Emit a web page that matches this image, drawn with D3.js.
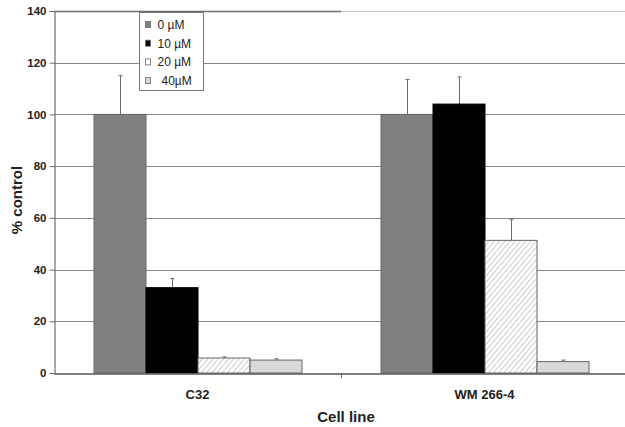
<!DOCTYPE html>
<html>
<head>
<meta charset="utf-8">
<script src="https://cdn.jsdelivr.net/npm/d3@7"></script>
<style>
  body { margin: 0; background: #fff; }
  text { font-family: Arial, "Liberation Sans", sans-serif; }
</style>
</head>
<body>
<div id="container"></div>
<script>
// data
let cellLines = ['C32', 'WM 266-4'];
let doses = ['0 \u00b5M', '10 \u00b5M', '20 \u00b5M', '40\u00b5M'];
let meanC32 = [100, 33, 5.8, 5];
let meanWM = [100, 104, 51.3, 4.4];
let errC32 = [15, 3.5, 0.4, 0.5];
let errWM = [13.5, 10.5, 8, 0.6];
let yTicks = [0, 20, 40, 60, 80, 100, 120, 140];

let w = 625;
let h = 427;
let margin = { top: 11, right: 0, bottom: 54, left: 54 };

let fills = ['#808080', '#000000', 'url(#hatch)', '#d9d9d9'];
let legendFills = ['#808080', '#000000', '#ffffff', '#d9d9d9'];

let svg = d3.select('#container')
  .append('svg')
    .attr('width', w)
    .attr('height', h);

// hatch pattern for the 20 uM bars
let pat = svg.append('defs').append('pattern')
  .attr('id', 'hatch')
  .attr('patternUnits', 'userSpaceOnUse')
  .attr('width', 4)
  .attr('height', 4)
  .attr('patternTransform', 'rotate(40)');
pat.append('rect').attr('width', 4).attr('height', 4).attr('fill', '#fff');
pat.append('line')
  .attr('x1', 0).attr('y1', 0).attr('x2', 0).attr('y2', 4)
  .attr('stroke', '#a8a8a8').attr('stroke-width', 1.2);

let x0 = d3.scaleBand()
  .domain(cellLines)
  .range([margin.left, margin.left + 574]);

let x1 = d3.scaleBand()
  .domain(d3.range(doses.length))
  .range([40, 40 + 208]);

let y = d3.scaleLinear()
  .domain([0, 140])
  .range([h - margin.bottom, margin.top]);

// gridlines
svg.append('g').selectAll('line')
  .data(yTicks.filter(d => d > 0))
  .enter().append('line')
    .attr('x1', margin.left)
    .attr('x2', w)
    .attr('y1', d => Math.round(y(d)) + 0.5)
    .attr('y2', d => Math.round(y(d)) + 0.5)
    .attr('stroke', d => d == 140 ? '#c0c0c0' : '#858585')
    .attr('stroke-width', 1.2);

// darker left half of top line
svg.append('line')
  .attr('x1', margin.left).attr('x2', x0('WM 266-4'))
  .attr('y1', Math.round(y(140)) + 0.5).attr('y2', Math.round(y(140)) + 0.5)
  .attr('stroke', '#6e6e6e').attr('stroke-width', 1.4);

let rows = cellLines.map((c, i) => ({
  line: c,
  means: i == 0 ? meanC32 : meanWM,
  errs: i == 0 ? errC32 : errWM
}));

let groups = svg.selectAll('.datagroup')
  .data(rows)
  .enter().append('g')
    .attr('class', 'datagroup')
    .attr('transform', d => 'translate(' + x0(d.line) + ',0)');

// error bars (upper half only)
groups.selectAll('.err')
  .data(d => d.means.map((m, j) => ({ j: j, m: m, e: d.errs[j] })))
  .enter().append('g')
    .attr('class', 'err')
    .each(function(d) {
      let g = d3.select(this);
      let cx = Math.round(x1(d.j) + x1.bandwidth() / 2) + 0.5;
      g.append('line')
        .attr('x1', cx).attr('x2', cx)
        .attr('y1', y(d.m)).attr('y2', y(d.m + d.e))
        .attr('stroke', '#6a6a6a').attr('stroke-width', 1);
      g.append('line')
        .attr('x1', cx - 2).attr('x2', cx + 2)
        .attr('y1', y(d.m + d.e)).attr('y2', y(d.m + d.e))
        .attr('stroke', '#6a6a6a').attr('stroke-width', 1);
    });

groups.selectAll('rect')
  .data(d => d.means.map((m, j) => ({ j: j, m: m })))
  .enter().append('rect')
    .attr('x', d => x1(d.j))
    .attr('y', d => y(d.m))
    .attr('width', x1.bandwidth())
    .attr('height', d => y(0) - y(d.m))
    .attr('fill', d => fills[d.j])
    .attr('stroke', d => d.j == 1 ? '#000' : '#666')
    .attr('stroke-width', 1);

// y axis
let yAxis = svg.append('g')
  .attr('transform', 'translate(' + (margin.left + 0.5) + ',0)')
  .call(d3.axisLeft(y).tickValues(yTicks).tickSize(5).tickPadding(3));
yAxis.select('.domain').attr('stroke', '#6e6e6e').attr('stroke-width', 1.2);
yAxis.selectAll('.tick line').attr('stroke', '#6e6e6e');
yAxis.selectAll('text')
  .attr('font-size', 11.5)
  .attr('font-weight', 'bold')
  .attr('fill', '#222');

// x axis
let xAxis = svg.append('g')
  .attr('transform', 'translate(0,' + (Math.round(y(0)) + 0.5) + ')')
  .call(d3.axisBottom(x0).tickSize(0).tickPadding(16));
xAxis.select('.domain').attr('stroke', '#555').attr('stroke-width', 1.4);
xAxis.selectAll('text')
  .attr('font-size', 13)
  .attr('font-weight', 'bold')
  .attr('fill', '#222');
// tick between the two groups
svg.append('line')
  .attr('x1', x0('WM 266-4') + 0.5).attr('x2', x0('WM 266-4') + 0.5)
  .attr('y1', y(0)).attr('y2', y(0) + 5)
  .attr('stroke', '#6e6e6e');

// axis titles
svg.append('text')
  .attr('x', 346)
  .attr('y', 422)
  .attr('text-anchor', 'middle')
  .attr('font-size', 15)
  .attr('font-weight', 'bold')
  .attr('fill', '#222')
  .text('Cell line');

svg.append('text')
  .attr('transform', 'translate(22,200) rotate(-90)')
  .attr('text-anchor', 'middle')
  .attr('font-size', 15)
  .attr('font-weight', 'bold')
  .attr('fill', '#222')
  .text('% control');

// legend
let legend = svg.append('g').attr('transform', 'translate(139.5,12.5)');
legend.append('rect')
  .attr('width', 64).attr('height', 78)
  .attr('fill', '#fff')
  .attr('stroke', '#777').attr('stroke-width', 1);
let items = legend.selectAll('.item')
  .data(doses)
  .enter().append('g')
    .attr('class', 'item')
    .attr('transform', (d, i) => 'translate(0,' + (12 + i * 18.7) + ')');
items.append('rect')
  .attr('x', 6).attr('y', -3)
  .attr('width', 5).attr('height', 6)
  .attr('fill', (d, i) => legendFills[i])
  .attr('stroke', '#666').attr('stroke-width', 0.8);
items.append('text')
  .attr('x', (d, i) => i == 3 ? 22 : 18)
  .attr('y', 4.5)
  .attr('font-size', 12)
  .attr('fill', '#222')
  .text(d => d);
</script>
</body>
</html>
